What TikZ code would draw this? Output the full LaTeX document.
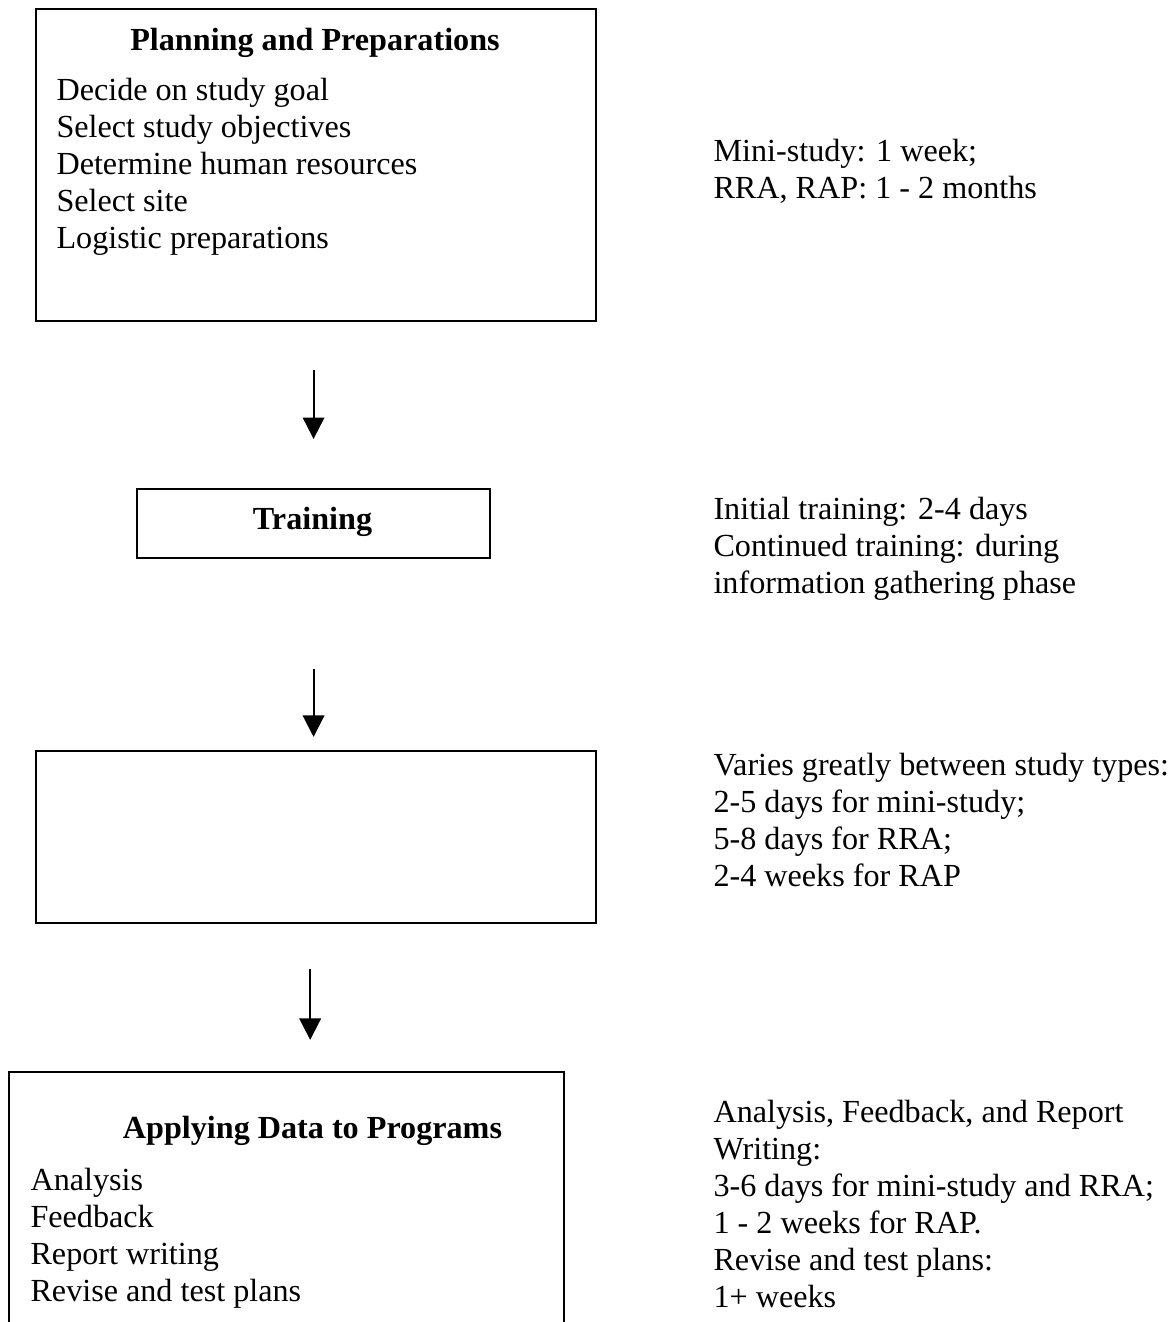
\documentclass[tikz,border=0pt]{standalone}
\usepackage{fontspec}
\setmainfont{Liberation Serif}
\usetikzlibrary{arrows.meta}

\def\px{0.3731pt}
\tikzset{
    every node/.style={inner sep=0pt, font=\fontsize{12pt}{13.8pt}\selectfont},
    box/.style={draw, line width=0.8pt, anchor=north west},
    txt/.style={anchor=base west},
    ttl/.style={anchor=base, font=\fontsize{12pt}{13.8pt}\selectfont\bfseries},
    arr/.style={line width=0.8pt, -{Triangle[width=8pt,length=8pt]}},
}

\begin{document}
\begin{tikzpicture}[x=\px,y=-\px]
    \useasboundingbox (0,0) rectangle (1174,1322);
    \clip (0,0) rectangle (1174,1322);

    % the four stages
    \node[box, minimum width=560*\px, minimum height=312*\px] (plan) at (35,8) {};
    \node[box, minimum width=353*\px, minimum height=69*\px] (train) at (136,488) {};
    \node[box, minimum width=560*\px, minimum height=172*\px] (gather) at (35,750) {};
    \node[box, minimum width=555*\px, minimum height=290*\px] (apply) at (8,1071) {};

    \node[ttl] (plantitle) at (315,50) {Planning and Preparations};
    \foreach \t [count=\i] in {Decide on study goal, Select study objectives,
        Determine human resources, Select site, Logistic preparations}{
        \node[txt] (plan\i) at (56,{63+37*\i}) {\t};
    }
    \node[ttl] (traintitle) at (312.5,529) {Training};
    \node[ttl] (applytitle) at (312.5,1138) {Applying Data to Programs};
    \foreach \t [count=\i] in {Analysis, Feedback, Report writing, Revise and test plans}{
        \node[txt] (apply\i) at (30,{1153+37*\i}) {\t};
    }

    % durations on the right
    \foreach \t [count=\i] in {Mini-study: 1 week;, {RRA, RAP: 1 - 2 months}}{
        \node[txt] (mini\i) at (713,{124+37*\i}) {\t};
    }
    \foreach \t [count=\i] in {Initial training: 2-4 days, Continued training: during,
        information gathering phase}{
        \node[txt] (init\i) at (713,{482+37*\i}) {\t};
    }
    \foreach \t [count=\i] in {Varies greatly between study types:, 2-5 days for mini-study;,
        5-8 days for RRA;, 2-4 weeks for RAP}{
        \node[txt] (vary\i) at (713,{738+37*\i}) {\t};
    }
    \foreach \t [count=\i] in {{Analysis, Feedback, and Report}, Writing:,
        3-6 days for mini-study and RRA;, 1 - 2 weeks for RAP., Revise and test plans:, 1+ weeks}{
        \node[txt] (anal\i) at (713,{1085+37*\i}) {\t};
    }

    \coordinate (gatherout) at ([xshift=-2.2pt]gather.south);
    \draw[arr, shorten <=17.9pt, shorten >=18.3pt] (train.north |- plan.south) -- (train.north);
    \draw[arr, shorten <=41pt, shorten >=4.9pt] (train.south) -- (train.south |- gather.north);
    \draw[arr, shorten <=16.8pt, shorten >=11.6pt] (gatherout) -- (gatherout |- apply.north);
\end{tikzpicture}
\end{document}
